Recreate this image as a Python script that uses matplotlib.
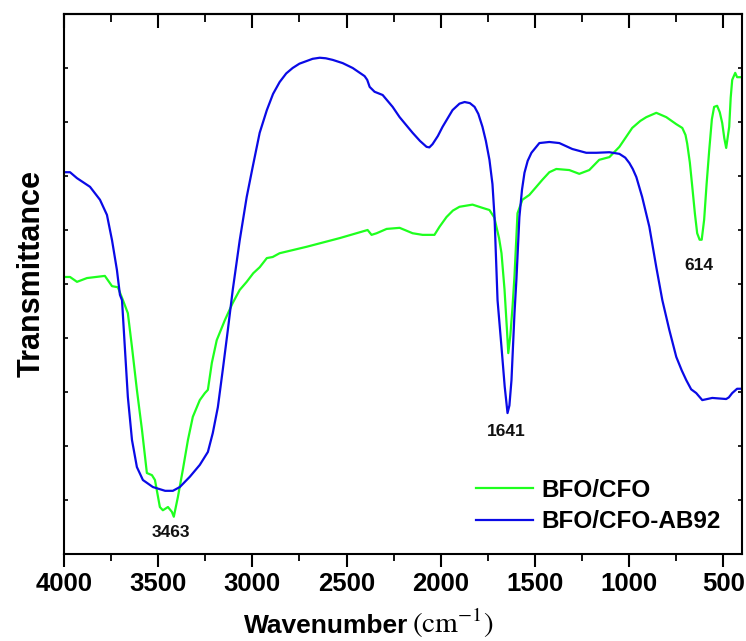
import matplotlib
matplotlib.use("Agg")
import matplotlib.pyplot as plt
from matplotlib.ticker import MultipleLocator

plt.rcParams['font.family'] = ['Liberation Sans', 'DejaVu Sans']
plt.rcParams['mathtext.fontset'] = 'stix'

# FTIR spectra (wavenumber in cm^-1, transmittance in arbitrary units)
bfo_cfo_wn = [4000, 3968, 3931, 3878, 3783, 3745, 3714, 3687, 3661, 3639, 3613, 3586,
              3560, 3533, 3517, 3491, 3475, 3448, 3427, 3417, 3395, 3369, 3342, 3316,
              3279, 3252, 3236, 3215, 3189, 3146, 3104, 3067, 3030, 2995, 2961, 2923, 2892,
              2855, 2711, 2536, 2388, 2367, 2340, 2287, 2218, 2149, 2096, 2033, 2006,
              1969, 1935, 1900, 1831, 1778, 1741, 1715, 1704, 1690, 1677, 1661, 1648, 1641,
              1630, 1618, 1608, 1592, 1566,
              1529, 1492, 1460, 1423, 1386, 1317, 1264, 1211, 1158, 1104, 1051, 983,
              940, 908, 855, 802, 749, 717, 700, 691, 677, 664, 650, 638, 625, 614, 601,
              588, 574, 560, 548, 532, 518, 505,
              494, 484, 468, 460, 452, 436, 426, 405]
bfo_cfo_t = [51.3, 51.3, 50.4, 51.1, 51.5, 49.6, 49.4, 47.0, 44.6, 38.3, 30.4, 23.0,
             15.0, 14.6, 13.7, 8.7, 8.1, 8.7, 7.8, 6.9, 10.6, 15.6, 21.1, 25.4,
             28.5, 29.8, 30.4, 35.4, 39.6, 43.3, 46.5, 48.9, 50.4, 52.0, 53.1, 54.8, 55.0,
             55.7, 56.9, 58.5, 60.0, 59.1, 59.4, 60.2, 60.4, 59.4, 59.1, 59.1, 60.6,
             62.4, 63.6, 64.3, 64.7, 64.1, 63.7, 62.3, 60.6, 58.5, 55.7, 49.0, 41.5, 37.2,
             40.5, 46.0, 51.5, 63.1, 65.6,
             66.5, 68.0, 69.3, 70.7, 71.3, 71.1, 70.4, 71.1, 73.0, 73.5, 75.4, 78.9,
             80.2, 80.9, 81.7, 80.9, 79.6, 78.9, 77.6, 76.0, 72.5, 68.0, 63.0, 59.4, 58.2, 58.2, 61.9,
             68.5, 74.8, 80.5, 82.8, 83.0, 81.8, 79.8,
             77.0, 75.2, 79.1, 84.5, 87.8, 89.1, 88.3, 88.3]

ab92_wn = [4000, 3968, 3931, 3862, 3809, 3772, 3745, 3719, 3703, 3692, 3677, 3661,
           3639, 3613, 3581, 3528, 3463, 3422, 3385, 3332, 3279, 3236, 3210, 3183,
           3157, 3130, 3104, 3067, 3030, 2998, 2961, 2923, 2890, 2855, 2820, 2786, 2750,
           2711, 2680, 2642, 2610, 2573, 2520, 2467, 2404, 2390, 2377, 2351, 2308, 2255,
           2218, 2180, 2149, 2110, 2075, 2060, 2043, 2015, 1990,
           1937, 1900, 1873, 1845, 1820, 1800, 1778, 1760, 1741, 1725, 1714, 1698, 1677,
           1660, 1645, 1635, 1624, 1608, 1598,
           1582, 1568, 1555, 1538, 1518, 1476, 1423, 1370, 1301, 1227, 1173, 1104, 1051,
           1020, 998, 980, 961, 930, 892, 855, 823, 786, 749, 720, 696, 670, 643, 611,
           558, 484, 470, 452, 426, 405]
ab92_t = [70.7, 70.7, 69.6, 68.0, 65.6, 62.8, 58.1, 52.6, 48.0, 47.0, 38.3, 29.1,
          21.1, 16.1, 13.7, 12.4, 11.7, 11.7, 12.4, 14.3, 16.5, 18.9, 22.4, 27.2,
          34.1, 41.5, 48.9, 58.1, 66.1, 71.7, 78.0, 82.2, 85.2, 87.4, 89.0, 90.0, 90.8,
          91.3, 91.7, 91.9, 91.8, 91.5, 90.9, 90.0, 88.5, 87.8, 86.5, 85.6, 85.0, 82.8,
          80.9, 79.3, 78.0, 76.5, 75.4, 75.3, 75.9, 77.4, 79.1,
          82.2, 83.4, 83.7, 83.5, 82.8, 81.5, 79.1, 76.5, 73.0, 68.5, 62.4, 47.0, 38.3,
          31.0, 26.1, 27.5, 32.2, 44.6, 50.7,
          62.4, 67.5, 70.6, 72.8, 74.3, 76.1, 76.3, 76.1, 75.0, 74.3, 74.3, 74.4, 74.1,
          73.4, 72.4, 71.3, 69.8, 66.1, 60.6, 53.1, 47.0, 41.5, 36.5, 34.0, 32.2, 30.5, 29.8, 28.5,
          28.9, 28.7, 29.0, 29.8, 30.6, 30.6]

series_labels = ["BFO/CFO", "BFO/CFO-AB92"]
series_colors = ["#1eff1e", "#0a0ae6"]

# Peak annotations: (text, wavenumber, transmittance of label)
peak_labels = ["3463", "1641", "614"]
peak_pos = [(3433, 4.0), (1651, 22.7), (627, 53.4)]

fig = plt.figure(figsize=(7.46, 6.41), dpi=100)
ax = fig.add_axes([64 / 746, 1 - 554 / 641, (742 - 64) / 746, (554 - 14) / 641])

ax.plot(bfo_cfo_wn, bfo_cfo_t, color=series_colors[0], lw=1.6, label=series_labels[0])
ax.plot(ab92_wn, ab92_t, color=series_colors[1], lw=1.6, label=series_labels[1])

for txt, (x, y) in zip(peak_labels, peak_pos):
    ax.text(x, y, txt, ha='center', va='center', fontsize=12.5, fontweight='bold', color='#111111')

ax.set_xlim(4000, 400)
ax.set_ylim(0, 100)

ax.xaxis.set_major_locator(MultipleLocator(500))
ax.xaxis.set_minor_locator(MultipleLocator(250))
ax.yaxis.set_major_locator(MultipleLocator(10))
ax.set_yticklabels([])

ax.tick_params(axis='x', which='major', direction='out', length=9, width=1.5,
               labelsize=18.5, pad=4)
ax.tick_params(axis='x', which='minor', direction='out', length=5, width=1.3)
ax.tick_params(axis='y', which='major', direction='in', length=3, width=1.2,
               left=True, right=True)
for lbl in ax.get_xticklabels():
    lbl.set_fontweight('bold')

top = ax.secondary_xaxis('top')
top.xaxis.set_major_locator(MultipleLocator(500))
top.xaxis.set_minor_locator(MultipleLocator(250))
top.tick_params(axis='x', which='major', direction='in', length=10, width=1.5, labeltop=False)
top.tick_params(axis='x', which='minor', direction='in', length=6, width=1.3)
top.spines['top'].set_linewidth(1.5)

for sp in ax.spines.values():
    sp.set_linewidth(1.5)

# x-axis title: bold sans word followed by the serif unit
base_y = 1 - 633 / 641
fig.text(244 / 746, base_y, 'Wavenumber', fontsize=19, fontweight='bold',
         ha='left', va='baseline')
fig.text(412 / 746, base_y, r'$\mathrm{(cm^{-1})}$', fontsize=21,
         ha='left', va='baseline')

ax.set_ylabel('Transmittance', fontsize=22, fontweight='bold')
ax.yaxis.set_label_coords(-0.0255, 0.520)

leg = ax.legend(loc='upper left', bbox_to_anchor=(0.608, 0.139), frameon=False,
                prop={'weight': 'bold', 'size': 17.5}, handlelength=2.35,
                handletextpad=0.35, labelspacing=0.35, borderpad=0, borderaxespad=0)

fig.savefig("out.png", dpi=100)
